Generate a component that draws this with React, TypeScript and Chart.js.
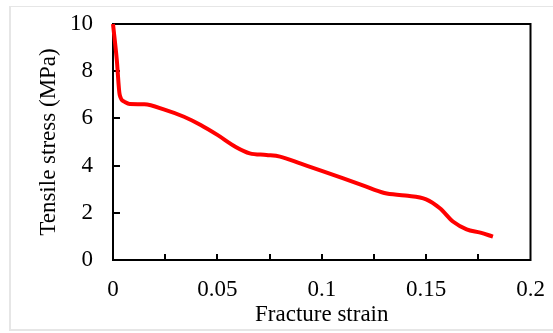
import { useEffect, useRef } from "react";
import { Chart, registerables } from "chart.js";

Chart.register(...registerables);

// Stress–strain curve readings
const strain = [
  0, 0.0018, 0.0032, 0.0056, 0.008, 0.015, 0.025, 0.034, 0.042, 0.05, 0.059, 0.0655, 0.0735,
  0.08, 0.09, 0.1, 0.11, 0.12, 0.13, 0.14, 0.15, 0.1566, 0.163, 0.1694, 0.176, 0.182,
];
const stress = [
  10, 8.5, 7.0, 6.7, 6.61, 6.6, 6.36, 6.07, 5.72, 5.3, 4.78, 4.52, 4.45,
  4.38, 4.08, 3.78, 3.47, 3.15, 2.84, 2.73, 2.57, 2.19, 1.62, 1.3, 1.16, 0.99,
];

const xMin = 0;
const xMax = 0.2;
const xLabelStep = 0.05;
const xTickStep = 0.025;
const yMin = 0;
const yMax = 10;
const yStep = 2;

const xTitle = "Fracture strain";
const yTitle = "Tensile stress (MPa)";

const FONT = "'Liberation Serif', 'Times New Roman', serif";

// Plot frame with inward-facing tick marks
const framePlugin = {
  id: "frame",
  beforeDatasetsDraw(chart: any) {
    const { ctx, chartArea } = chart;
    const { left, right, top, bottom } = chartArea;
    const xs = chart.scales.x;
    const ys = chart.scales.y;
    ctx.save();
    ctx.strokeStyle = "#000";
    ctx.lineWidth = 2;
    ctx.strokeRect(left, top, right - left, bottom - top);
    ctx.beginPath();
    const nX = Math.round((xMax - xMin) / xTickStep);
    for (let i = 1; i < nX; i++) {
      const px = Math.round(xs.getPixelForValue(xMin + i * xTickStep));
      ctx.moveTo(px, bottom);
      ctx.lineTo(px, bottom - 6);
    }
    const nY = Math.round((yMax - yMin) / yStep);
    for (let i = 1; i < nY; i++) {
      const py = Math.round(ys.getPixelForValue(yMin + i * yStep));
      ctx.moveTo(left, py);
      ctx.lineTo(left + 7, py);
    }
    ctx.stroke();
    ctx.restore();
  },
};

// Fixed axis box sizes; edge padding comes from layout.padding only
const fixAxis = (size: { width?: number; height?: number }) => (s: any) => {
  if (size.width !== undefined) s.width = size.width;
  if (size.height !== undefined) s.height = size.height;
  s.paddingTop = 0;
  s.paddingBottom = 0;
  s.paddingLeft = 0;
  s.paddingRight = 0;
};

export default function App() {
  const canvasRef = useRef<HTMLCanvasElement | null>(null);

  useEffect(() => {
    const canvas = canvasRef.current;
    if (!canvas) return;
    const chart = new Chart(canvas, {
      type: "line",
      data: {
        datasets: [
          {
            data: strain.map((x, i) => ({ x, y: stress[i] })),
            borderColor: "#ff0000",
            borderWidth: 4,
            pointRadius: 0,
            cubicInterpolationMode: "monotone",
            fill: false,
            clip: false as any,
          },
        ],
      },
      options: {
        animation: false,
        responsive: false,
        maintainAspectRatio: false,
        devicePixelRatio: 1,
        layout: {
          padding: { top: 24, right: 22.5, left: 0, bottom: 0 },
        },
        plugins: {
          legend: { display: false },
          tooltip: { enabled: false },
        },
        scales: {
          x: {
            type: "linear",
            min: xMin,
            max: xMax,
            grid: { display: false, drawTicks: false },
            border: { display: false },
            ticks: {
              stepSize: xLabelStep,
              color: "#000",
              font: { family: FONT, size: 23 },
              padding: 16,
              maxRotation: 0,
              callback: (v: any) => String(Number(Number(v).toFixed(3))),
            },
            title: {
              display: true,
              text: xTitle,
              color: "#000",
              font: { family: FONT, size: 23 },
              padding: { top: 0, bottom: 4 },
            },
            afterFit: fixAxis({ height: 73 }),
          },
          y: {
            type: "linear",
            min: yMin,
            max: yMax,
            grid: { display: false, drawTicks: false },
            border: { display: false },
            ticks: {
              stepSize: yStep,
              color: "#000",
              font: { family: FONT, size: 23 },
              padding: 20,
            },
            title: {
              display: true,
              text: yTitle,
              color: "#000",
              font: { family: FONT, size: 23 },
              padding: { top: 35, bottom: 0 },
            },
            afterFit: fixAxis({ width: 113 }),
          },
        },
      },
      plugins: [framePlugin],
    } as any);
    return () => chart.destroy();
  }, []);

  return (
    <div
      style={{
        position: "fixed",
        left: 0,
        top: 0,
        width: 553,
        height: 333,
        overflow: "hidden",
        background: "#fff",
      }}
    >
      <div
        style={{
          position: "absolute",
          left: 9,
          top: 6,
          width: 560,
          height: 322,
          borderTop: "1px solid #e6e6e6",
          borderLeft: "2px solid #e6e6e6",
          borderBottom: "2px solid #e6e6e6",
        }}
      />
      <canvas
        ref={canvasRef}
        width={553}
        height={333}
        style={{ position: "absolute", left: 0, top: 0, width: 553, height: 333 }}
      />
    </div>
  );
}
